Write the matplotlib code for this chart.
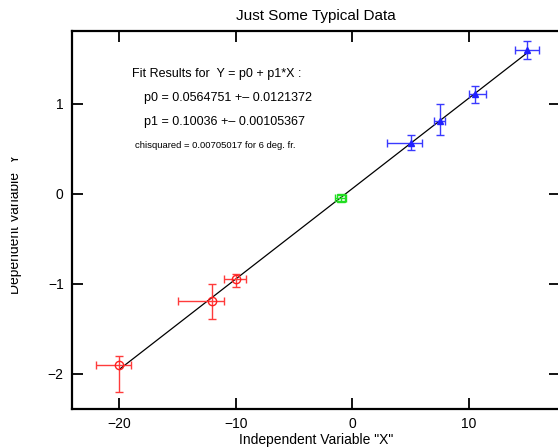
import matplotlib
matplotlib.use('Agg')
import matplotlib.pyplot as plt
from matplotlib.transforms import Bbox

plt.rcParams['font.family'] = ['Liberation Sans', 'DejaVu Sans']

# ── Data ─────────────────────────────────────────────────────────────────────
red_x      = [-20.0, -12.0, -10.0]
red_y      = [-1.90, -1.19, -0.95]
red_xerr   = [[2.0, 3.0, 1.0], [1.0, 1.0, 0.9]]
red_yerr   = [[0.30, 0.20, 0.09], [0.10, 0.19, 0.06]]

green_x    = [-1.0]
green_y    = [-0.05]
green_xerr = [0.45]
green_yerr = [0.03]

blue_x     = [5.0, 7.5, 10.5, 15.0]
blue_y     = [0.56, 0.81, 1.11, 1.60]
blue_xerr  = [[2.0, 0.5, 0.5, 1.0], [1.0, 0.5, 1.0, 1.0]]
blue_yerr  = [[0.07, 0.16, 0.10, 0.10], [0.09, 0.19, 0.09, 0.10]]

p0, p1 = 0.0564751, 0.10036
fit_x = [-20.0, 15.0]

fit_lines = ['Fit Results for  Y = p0 + p1*X :',
             'p0 = 0.0564751 +\u2013 0.0121372',
             'p1 = 0.10036 +\u2013 0.00105367']
chi_text = 'chisquared = 0.00705017 for 6 deg. fr.'

# ── Figure ───────────────────────────────────────────────────────────────────
W, H = 558, 447
fig = plt.figure(figsize=(W / 100, H / 100), dpi=100)
ax = fig.add_axes([72 / W, 1 - 409 / H, 488 / W, 378 / H])

ax.plot(fit_x, [p0 + p1 * v for v in fit_x], color='black', lw=0.9, zorder=2)

eb = dict(fmt='none', elinewidth=1.0, capsize=3, capthick=1.0, zorder=3)
ax.errorbar(red_x, red_y, xerr=red_xerr, yerr=red_yerr, ecolor='#ff3b3b', **eb)
ax.plot(red_x, red_y, 'o', mfc='none', mec='#ff2020', ms=6, mew=1.0, zorder=4)

ax.errorbar(green_x, green_y, xerr=green_xerr, yerr=green_yerr, ecolor='#22dd22', **eb)
ax.plot(green_x, green_y, 's', mfc='none', mec='#22dd22', ms=6, mew=1.0, zorder=4)

ax.errorbar(blue_x, blue_y, xerr=blue_xerr, yerr=blue_yerr, ecolor='#3a3aff', **eb)
ax.plot(blue_x, blue_y, '^', color='#2020ff', ms=5, zorder=4)

ax.set_xlim(-24.06, 17.83)
ax.set_ylim(-2.39, 1.806)
ax.set_xticks([-20, -10, 0, 10])
ax.set_yticks([-2, -1, 0, 1])
ax.tick_params(direction='in', length=8, width=1.3, top=True, right=True,
               labelsize=10, pad=6)
for s in ax.spines.values():
    s.set_linewidth(1.6)

ax.set_title('Just Some Typical Data', fontsize=11, pad=8)
ax.set_xlabel('Independent Variable "X"', fontsize=10, labelpad=1)

# y label is clipped at the left edge in the reference
yl = fig.text(22.5 / W, 1 - 222 / H, 'Dependent Variable "Y"', rotation=90,
              ha='right', va='center', fontsize=10)
yl.set_clip_box(Bbox([[11, 0], [W, H]]))
yl.set_clip_on(True)

# fit annotation
fig.text(132 / W, 1 - 74 / H, fit_lines[0], fontsize=9, va='center')
fig.text(144 / W, 1 - 98 / H, fit_lines[1], fontsize=9, va='center')
fig.text(144 / W, 1 - 122 / H, fit_lines[2], fontsize=9, va='center')
fig.text(135 / W, 1 - 146 / H, chi_text, fontsize=6.8, va='center',
         family=['Liberation Sans Narrow', 'Liberation Sans'])

fig.savefig('out.png', dpi=100)
